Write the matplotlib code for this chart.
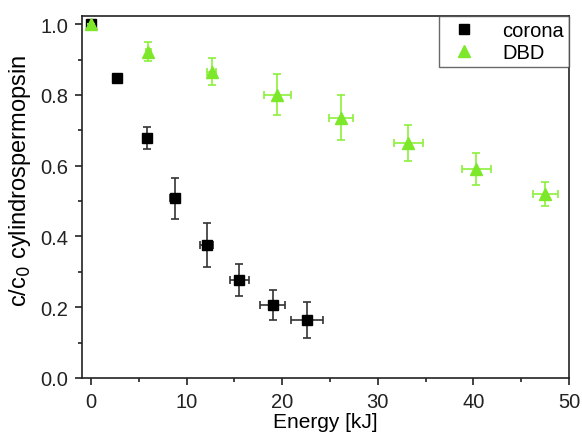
import matplotlib
matplotlib.use("Agg")
import matplotlib.pyplot as plt
from matplotlib.ticker import MultipleLocator, FormatStrFormatter

plt.rcParams['font.family'] = ['Liberation Sans', 'DejaVu Sans']

corona_x = [0.0, 2.7, 5.8, 8.8, 12.1, 15.5, 19.0, 22.6]
corona_y = [1.0, 0.847, 0.678, 0.508, 0.376, 0.277, 0.206, 0.164]
corona_xerr = [0.0, 0.0, 0.3, 0.5, 0.7, 1.0, 1.3, 1.7]
corona_yerr = [0.0, 0.0, 0.031, 0.058, 0.062, 0.044, 0.043, 0.051]

dbd_x = [0.0, 6.0, 12.6, 19.5, 26.1, 33.2, 40.3, 47.5]
dbd_y = [1.0, 0.922, 0.866, 0.800, 0.736, 0.664, 0.590, 0.520]
dbd_xerr = [0.0, 0.3, 0.5, 1.4, 1.25, 1.5, 1.5, 1.3]
dbd_yerr = [0.0, 0.027, 0.038, 0.058, 0.064, 0.052, 0.046, 0.035]

green = '#7de82a'

fig = plt.figure(figsize=(5.82, 4.35), dpi=100)
ax = fig.add_axes([82/582, 1-379/435, 487/582, 362/435])

ax.errorbar(corona_x, corona_y, xerr=corona_xerr, yerr=corona_yerr, fmt='s',
            color='black', ms=6.5, ecolor='#333333', elinewidth=1.2, capsize=3,
            capthick=1.2, label='corona', zorder=2)
ax.errorbar(dbd_x, dbd_y, xerr=dbd_xerr, yerr=dbd_yerr, fmt='^',
            color=green, ms=8, ecolor='#8cf03c', elinewidth=1.2, capsize=3,
            capthick=1.2, label='DBD', zorder=3)

ax.set_xlim(-0.95, 50)
ax.set_ylim(0, 1.023)
ax.xaxis.set_major_locator(MultipleLocator(10))
ax.xaxis.set_minor_locator(MultipleLocator(5))
ax.yaxis.set_major_locator(MultipleLocator(0.2))
ax.yaxis.set_minor_locator(MultipleLocator(0.1))
ax.yaxis.set_major_formatter(FormatStrFormatter('%.1f'))
ax.tick_params(which='both', direction='out', top=False, right=False,
               labelsize=14.5, width=1.2, colors='#222222')
ax.tick_params(which='major', length=5, pad=5)
ax.tick_params(which='minor', length=3)
for s in ax.spines.values():
    s.set_linewidth(1.2)
    s.set_color('#222222')

ax.set_xlabel('Energy [kJ]', fontsize=15, labelpad=1)
ax.set_ylabel('c/c$_0$ cylindrospermopsin', fontsize=17)
ax.yaxis.set_label_coords(-0.100, 0.547)

h, l = ax.get_legend_handles_labels()
h = [hh[0] for hh in h]
leg = ax.legend(h, l, loc='upper right', fontsize=14.5, frameon=True, fancybox=False,
                edgecolor='#444444', borderaxespad=0.0, handletextpad=0.9,
                handlelength=2.0, borderpad=0.25, labelspacing=0.15)
leg.get_frame().set_linewidth(1.0)

fig.savefig('out.png', dpi=100)
